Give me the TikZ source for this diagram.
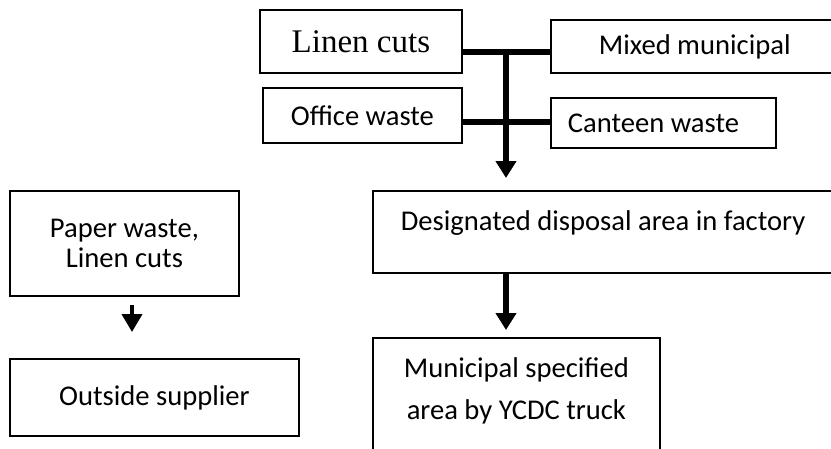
\documentclass[tikz,border=0pt]{standalone}
\usepackage{fontspec}
\setmainfont{Carlito}
\newfontfamily\timesfont{Liberation Serif}
\usetikzlibrary{arrows.meta}

\tikzset{
  wbox/.style={draw, line width=1.8pt, inner sep=0pt, anchor=north west, align=flush center},
  feed/.style={line width=5.5pt},
  flow/.style={line width=5.5pt, -{Triangle[length=17pt, width=20pt]}},
  thinflow/.style={line width=4pt, -{Triangle[length=18pt, width=20pt]}},
}

\begin{document}
\begin{tikzpicture}[x=1pt, y=-1pt, font=\fontsize{28.6}{34}\selectfont]
  \useasboundingbox (0,0) rectangle (831,448);
  \clip (0,0) rectangle (831,448);

  % --- TOP: the four sources ---
  \node[wbox, minimum width=202pt, minimum height=63pt,
        font=\timesfont\fontsize{33}{36}\selectfont] (linen) at (259,9) {Linen cuts};
  \node[wbox, align=flush left, text width=240pt, inner xsep=48pt,
        minimum height=53pt] (mixed) at (550,19) {Mixed municipal};
  \node[wbox, minimum width=199pt, minimum height=55pt] (office) at (262,87) {Office waste};
  \node[wbox, align=flush left, text width=191pt, inner xsep=17pt,
        minimum height=50pt] (canteen) at (550,97) {Canteen waste};

  % --- RIGHT: collected in the factory, then taken away ---
  \node[wbox, align=flush left, text width=420pt, inner xsep=28pt,
        text height=40pt, text depth=42pt] (designated) at (372,190)
    {Designated disposal area in factory};
  \node[wbox, text width=287pt, font=\fontsize{28.6}{42}\selectfont,
        text height=40pt, text depth=100pt] (municipal) at (372,337)
    {Municipal specified\\area by YCDC truck};

  % --- LEFT: sold on ---
  \node[wbox, minimum width=229pt, minimum height=105pt,
        font=\fontsize{28.6}{30}\selectfont] (paper) at (9,190) {Paper waste,\\Linen cuts};
  \node[wbox, minimum width=289pt, minimum height=77pt] (outside) at (9,358) {Outside supplier};

  % --- connectors ---
  \coordinate (jtop) at (506,52);
  \coordinate (jbot) at (506,122);
  \coordinate (pdrop) at (132,300);
  \draw[feed] (linen.east |- jtop) -- (mixed.west |- jtop);
  \draw[feed] (office.east |- jbot) -- (canteen.west |- jbot);
  \draw[flow, shorten >=12pt] (jtop) -- (jtop |- designated.north);
  \draw[flow, shorten >=7pt] (designated.south -| jtop) -- (municipal.north -| jtop);
  \draw[thinflow, shorten <=8pt, shorten >=26pt] (paper.south -| pdrop) -- (outside.north -| pdrop);

\end{tikzpicture}
\end{document}
